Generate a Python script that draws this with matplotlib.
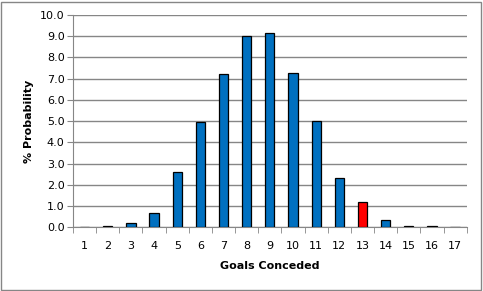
import matplotlib.pyplot as plt
import matplotlib.patches as patches
import numpy as np

goals = list(range(1, 18))
prob = [0.0, 0.05, 0.2, 0.68, 2.6, 4.97, 7.22, 9.0, 9.15, 7.27, 5.0, 2.32, 1.2, 0.34, 0.04, 0.04, 0.0]
highlight = 13

blue = '#0070C0'
grid_gray = '#868686'
colors = ['#FF0000' if g == highlight else blue for g in goals]

fig = plt.figure(figsize=(4.83, 2.91), dpi=100)
ax = fig.add_axes([73 / 483, 1 - 227.3 / 291, (466.7 - 73) / 483, (227.3 - 15) / 291])

ax.bar(goals, prob, width=0.4, color=colors, edgecolor='black', linewidth=0.9, zorder=3)

ax.set_xlim(0.5, 17.5)
ax.set_ylim(0, 10)
ax.set_yticks(np.arange(0, 10.1, 1.0))
ax.set_yticklabels([f'{v:.1f}' for v in np.arange(0, 10.1, 1.0)], fontsize=8)
ax.set_xticks(goals)
ax.set_xticklabels([str(g) for g in goals], fontsize=8)
ax.set_xticks(np.arange(0.5, 17.6, 1.0), minor=True)
ax.tick_params(axis='x', which='major', length=0, pad=10)
ax.tick_params(axis='x', which='minor', length=4, color=grid_gray, direction='out')
ax.tick_params(axis='y', length=4, color=grid_gray, pad=2)

ax.grid(axis='y', color=grid_gray, linewidth=1, zorder=0)
for side in ['top', 'right']:
    ax.spines[side].set_visible(False)
ax.spines['left'].set_color(grid_gray)
ax.spines['bottom'].set_color(grid_gray)

ax.set_xlabel('Goals Conceded', fontsize=8, fontweight='bold', labelpad=7)
ax.set_ylabel('% Probability', fontsize=8, fontweight='bold', labelpad=4)

fig.patches.append(patches.Rectangle((1 / 483, 1 / 291), 480 / 483, 288 / 291,
                                     transform=fig.transFigure, fill=False,
                                     edgecolor=grid_gray, linewidth=1))

plt.savefig('out.png', dpi=100)
